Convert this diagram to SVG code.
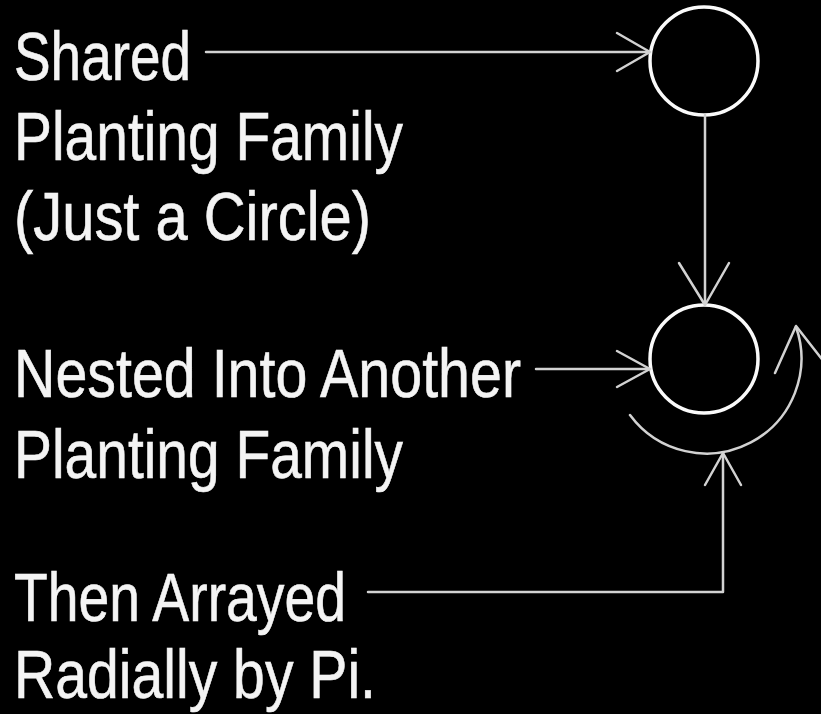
<svg xmlns="http://www.w3.org/2000/svg" width="821" height="714" viewBox="0 0 821 714">
<style>
text{font-family:"Liberation Sans",Arial,sans-serif;font-size:69px;fill:#f4f4f4;stroke:#f4f4f4;stroke-width:0.6}
.c{fill:none;stroke:#fafafa;stroke-width:3.5}
.l{fill:none;stroke:#d2d2d2;stroke-width:2.5;stroke-linecap:round;stroke-linejoin:round}
</style>
<rect width="821" height="714" fill="#000"/>
<g id="label-shared">
<text x="14" y="80" textLength="177" lengthAdjust="spacingAndGlyphs">Shared</text>
<text x="14" y="160" textLength="389" lengthAdjust="spacingAndGlyphs">Planting Family</text>
<text x="14" y="240" textLength="357" lengthAdjust="spacingAndGlyphs">(Just a Circle)</text>
</g>
<g id="label-nested">
<text x="14" y="397" textLength="507" lengthAdjust="spacingAndGlyphs">Nested Into Another</text>
<text x="14" y="478" textLength="389" lengthAdjust="spacingAndGlyphs">Planting Family</text>
</g>
<g id="label-arrayed">
<text x="14" y="621" textLength="332" lengthAdjust="spacingAndGlyphs">Then Arrayed</text>
<text x="14" y="698" textLength="362" lengthAdjust="spacingAndGlyphs">Radially by Pi.</text>
</g>
<g id="circle-1"><circle class="c" cx="704" cy="61" r="54"/></g>
<g id="circle-2"><circle class="c" cx="704" cy="359" r="54"/></g>
<g id="radial-arc">
<path class="l" d="M630,415 A95,95 0 0 0 796,327"/>
<path class="l" d="M775,373 L796,326 L828,367"/>
</g>
<g id="connectors">
<path class="l" d="M206,52 H650"/>
<path class="l" d="M617,33 L650,52 L617,71"/>
<path class="l" d="M705,115 V305"/>
<path class="l" d="M679,263 L705,305 L729,263"/>
<path class="l" d="M536,369 H650"/>
<path class="l" d="M617,351 L650,369 L617,387"/>
<path class="l" d="M368,592 H723 V453"/>
<path class="l" d="M705,485 L723,453 L741,485"/>
</g>
</svg>
